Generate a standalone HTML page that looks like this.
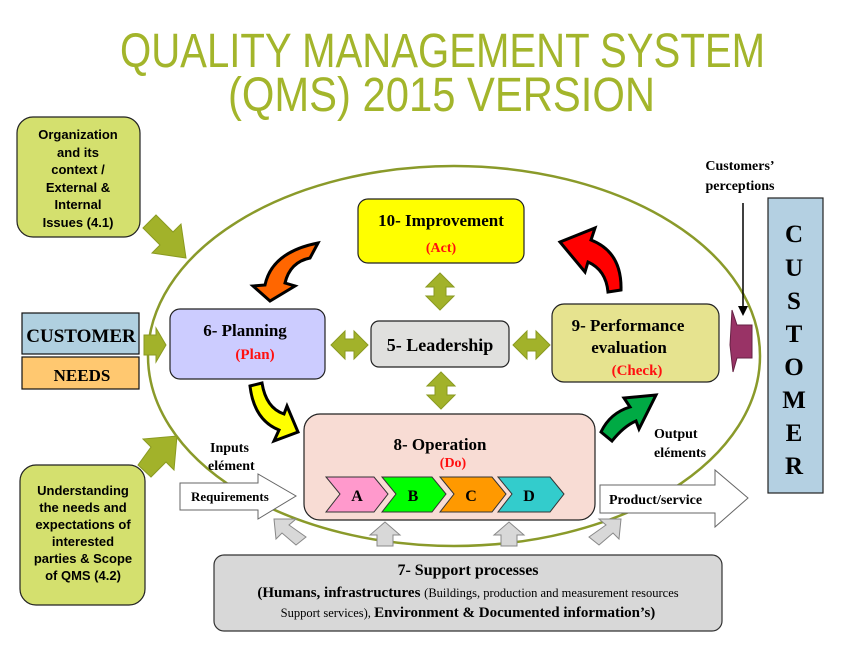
<!DOCTYPE html>
<html><head><meta charset="utf-8"><style>
body{margin:0;background:#fff;}
svg{display:block;}
text{font-family:"Liberation Serif",serif;font-weight:bold;}
.s{font-family:"Liberation Sans",sans-serif;}
</style></head><body>
<svg width="842" height="648" viewBox="0 0 842 648" xmlns="http://www.w3.org/2000/svg">
<text x="120" y="67" textLength="645" lengthAdjust="spacingAndGlyphs" class="s" style="font-weight:normal;font-size:48px;fill:#a3b52b">QUALITY MANAGEMENT SYSTEM</text>
<text x="228" y="111" textLength="427" lengthAdjust="spacingAndGlyphs" class="s" style="font-weight:normal;font-size:48px;fill:#a3b52b">(QMS) 2015 VERSION</text>

<ellipse cx="454" cy="356" rx="306" ry="190" fill="none" stroke="#8a9a2a" stroke-width="2.5"/>

<rect x="17" y="117" width="123" height="120" rx="16" fill="#d4e06e" stroke="#222" stroke-width="1.2"/>
<g style="font-size:13px" text-anchor="middle">
<text x="78" y="139" class="s">Organization</text><text x="78" y="157" class="s">and its</text><text x="78" y="174" class="s">context /</text><text x="78" y="192" class="s">External &amp;</text><text x="78" y="209" class="s">Internal</text><text x="78" y="227" class="s">Issues (4.1)</text>
</g>
<rect x="22" y="313" width="117" height="41" fill="#b0d0e0" stroke="#111" stroke-width="1.2"/>
<text x="81" y="342" text-anchor="middle" style="font-size:19px">CUSTOMER</text>
<rect x="22" y="357" width="117" height="32" fill="#ffc870" stroke="#111" stroke-width="1.2"/>
<text x="82" y="381" text-anchor="middle" style="font-size:17px">NEEDS</text>
<rect x="20" y="465" width="125" height="140" rx="16" fill="#d4e06e" stroke="#222" stroke-width="1.2"/>
<g text-anchor="middle" style="font-size:13px">
<text x="83" y="495" class="s">Understanding</text><text x="83" y="512" class="s">the needs and</text><text x="83" y="529" class="s">expectations of</text><text x="83" y="546" class="s">interested</text><text x="83" y="563" class="s">parties &amp; Scope</text><text x="83" y="580" class="s">of QMS (4.2)</text>
</g>

<polygon points="143,228 156,215 173,232 181,224 186,258 152,253 160,245" fill="#a2b22a" stroke="#8a9a20"/>
<polygon points="144,335 156,335 156,328 166,345 156,362 156,355 144,355" fill="#a2b22a" stroke="#8a9a20"/>
<polygon points="138,465 151,477 166,462 174,470 177,436 143,439 151,447" fill="#a2b22a" stroke="#8a9a20"/>

<rect x="358" y="199" width="166" height="64" rx="10" fill="#ffff00" stroke="#222" stroke-width="1.2"/>
<text x="441" y="226" text-anchor="middle" style="font-size:17px">10- Improvement</text>
<text x="441" y="252" text-anchor="middle" style="font-size:14px;fill:#ff1010">(Act)</text>
<rect x="170" y="309" width="155" height="70" rx="10" fill="#ccccff" stroke="#222" stroke-width="1.2"/>
<text x="245" y="336" text-anchor="middle" style="font-size:17px">6-  Planning</text>
<text x="255" y="359" text-anchor="middle" style="font-size:15px;fill:#ff1010">(Plan)</text>
<rect x="371" y="321" width="138" height="46" rx="8" fill="#e0e0de" stroke="#222" stroke-width="1.2"/>
<text x="440" y="351" text-anchor="middle" style="font-size:18px">5- Leadership</text>
<rect x="552" y="304" width="167" height="78" rx="12" fill="#e6e38f" stroke="#222" stroke-width="1.2"/>
<text x="628" y="331" text-anchor="middle" style="font-size:17px">9- Performance</text>
<text x="629" y="353" text-anchor="middle" style="font-size:17px">evaluation</text>
<text x="637" y="375" text-anchor="middle" style="font-size:15px;fill:#ff1010">(Check)</text>
<rect x="304" y="414" width="291" height="106" rx="16" fill="#f8dcd4" stroke="#222" stroke-width="1.2"/>
<text x="440" y="450" text-anchor="middle" style="font-size:17px">8-  Operation</text>
<text x="453" y="467" text-anchor="middle" style="font-size:14px;fill:#ff1010">(Do)</text>
<polygon points="326,477 374,477 388,494 374,512 326,512 340,494" fill="#ff99cc" stroke="#333"/>
<polygon points="382,477 432,477 446,494 432,512 382,512 396,494" fill="#00ff00" stroke="#333"/>
<polygon points="440,477 492,477 506,494 492,512 440,512 454,494" fill="#ff9900" stroke="#333"/>
<polygon points="498,477 550,477 564,494 550,512 498,512 512,494" fill="#33cccc" stroke="#333"/>
<text x="357" y="501" text-anchor="middle" style="font-size:16px">A</text>
<text x="413" y="501" text-anchor="middle" style="font-size:16px">B</text>
<text x="471" y="501" text-anchor="middle" style="font-size:16px">C</text>
<text x="529" y="501" text-anchor="middle" style="font-size:16px">D</text>

<g fill="#a2b22a" stroke="#8a9a20">
<polygon points="331,345 345,331 345,339 354,339 354,331 368,345 354,359 354,351 345,351 345,359"/>
<polygon points="513,345 527,331 527,339 536,339 536,331 550,345 536,359 536,351 527,351 527,359"/>
<polygon points="440,273 454,287 446,287 446,296 454,296 440,310 426,296 434,296 434,287 426,287"/>
<polygon points="441,372 455,386 447,386 447,395 455,395 441,409 427,395 435,395 435,386 427,386"/>
</g>

<g stroke="#000" stroke-width="3" stroke-linejoin="miter">
<path d="M318,243 L310,258 Q290,262 285,283 L295,286 L270,301 L253,286 L265,285 Q272,252 318,243 Z" fill="#ff6600"/>
<path d="M621,290 L608,292 Q606,270 588,262 L585,272 L560,242 L595,228 L591,240 Q622,252 621,290 Z" fill="#ff0000"/>
<path d="M250,386 L262,383 Q266,408 284,414 L287,406 L298,432 L274,441 L279,430 Q254,420 250,386 Z" fill="#ffff00"/>
<path d="M601,432 L612,441 Q624,426 636,421 L639,429 L656,395 L624,398 L630,407 Q610,413 601,432 Z" fill="#00aa44"/>
</g>

<text x="210" y="452" style="font-size:14px">Inputs</text>
<text x="208" y="470" style="font-size:14px">elément</text>
<polygon points="180,483 258,483 258,474 296,496 258,519 258,510 180,510" fill="#fff" stroke="#666"/>
<text x="191" y="501" style="font-size:13px">Requirements</text>
<text x="654" y="438" style="font-size:14px">Output</text>
<text x="654" y="457" style="font-size:14px">eléments</text>
<polygon points="600,485 715,485 715,470 748,498 715,527 715,513 600,513" fill="#fff" stroke="#666"/>
<text x="609" y="504" style="font-size:14px">Product/service</text>

<g fill="#d8d8d8" stroke="#888">
<polygon points="296,545 282,533 276,539 274,519 296,519 289,525 306,537"/>
<polygon points="377,546 377,535 370,535 385,522 400,535 393,535 393,546"/>
<polygon points="501,546 501,535 494,535 509,522 524,535 517,535 517,546"/>
<polygon points="599,545 613,533 619,539 621,519 599,519 606,525 589,537"/>
</g>

<rect x="214" y="555" width="508" height="76" rx="10" fill="#d8d8d8" stroke="#333" stroke-width="1.2"/>
<text x="468" y="575" text-anchor="middle" style="font-size:16px">7- Support processes</text>
<text x="468" y="597" text-anchor="middle" style="font-size:15px">(Humans, infrastructures <tspan style="font-weight:normal;font-size:12.5px">(Buildings, production and measurement resources</tspan></text>
<text x="468" y="617" text-anchor="middle" style="font-size:15px"><tspan style="font-weight:normal;font-size:12.5px">Support services), </tspan>Environment &amp; Documented information’s)</text>

<text x="740" y="170" text-anchor="middle" style="font-size:14px">Customers’</text>
<text x="740" y="190" text-anchor="middle" style="font-size:14px">perceptions</text>
<line x1="743" y1="203" x2="743" y2="308" stroke="#000" stroke-width="1.5"/>
<polygon points="738,306 748,306 743,316" fill="#000"/>
<polygon points="752,325 737,325 732,310 730,345 733,372 737,358 752,358" fill="#993366" stroke="#662244"/>
<rect x="768" y="198" width="55" height="295" fill="#b4d0e2" stroke="#222" stroke-width="1.2"/>
<g text-anchor="middle" style="font-size:25px">
<text x="794" y="242">C</text><text x="794" y="276">U</text><text x="794" y="309">S</text><text x="794" y="342">T</text><text x="794" y="375">O</text><text x="794" y="408">M</text><text x="794" y="441">E</text><text x="794" y="474">R</text>
</g>
</svg>
</body></html>
